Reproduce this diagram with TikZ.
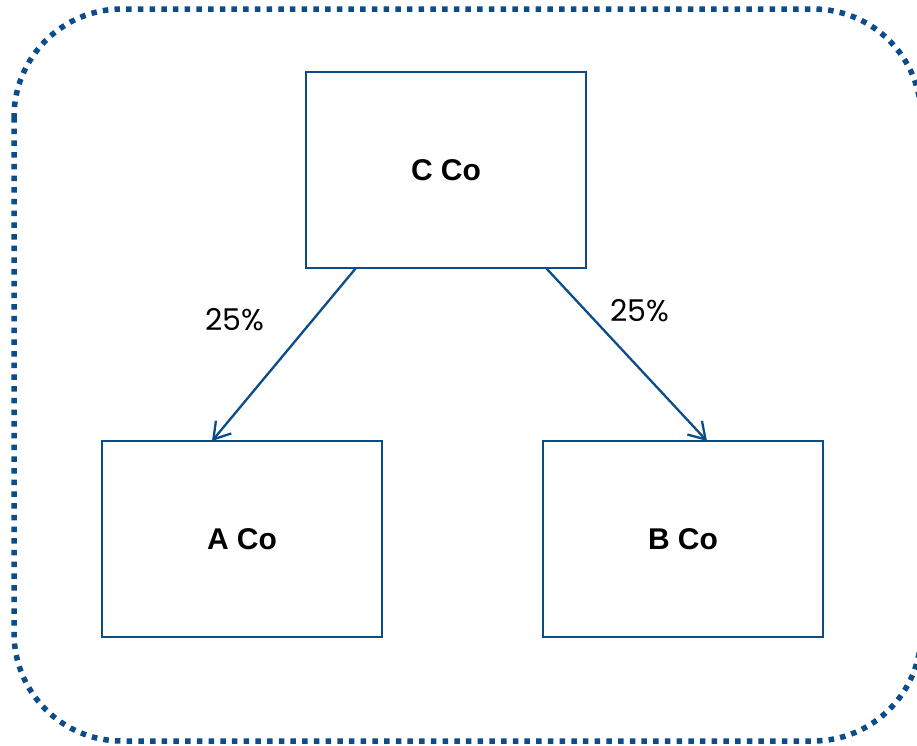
\documentclass[tikz,border=0pt]{standalone}
\usepackage{fontspec}
\setmainfont{Liberation Sans}
\newfontfamily\pctfont{Poppins}
\usetikzlibrary{arrows.meta}
\definecolor{navy}{RGB}{12,76,136}
\begin{document}
\begin{tikzpicture}[x=1pt,y=-1pt,
  company/.style={draw=navy,line width=2.6pt,minimum width=280pt,minimum height=196pt,inner sep=0pt,font=\fontsize{30}{36}\selectfont\bfseries},
  link/.style={draw=navy,line width=2.3pt,-{Straight Barb[length=16pt,width=20pt,line width=2.3pt]}},
  pct/.style={font=\pctfont\fontsize{30}{34}\selectfont,text=black}]
\useasboundingbox (0,0) rectangle (917,745);
\clip (0,0) rectangle (917,745);
\draw[navy,line width=5.5pt,dash pattern=on 5.5pt off 6.2pt,rounded corners=108pt] (14,9) rectangle (921,741);
\node[company] (c) at (446,170) {C Co};
\node[company] (a) at (242,539) {A Co};
\node[company] (b) at (683,539) {B Co};
\coordinate (cl) at (356,268);
\coordinate (cr) at (546,268);
\coordinate (at) at (212,441);
\coordinate (bt) at (707,441);
\draw[link] (cl) -- (at);
\draw[link] (cr) -- (bt);
\node[pct] (p1) at (235,320) {25\%};
\node[pct] (p2) at (640,311) {25\%};
\end{tikzpicture}
\end{document}
